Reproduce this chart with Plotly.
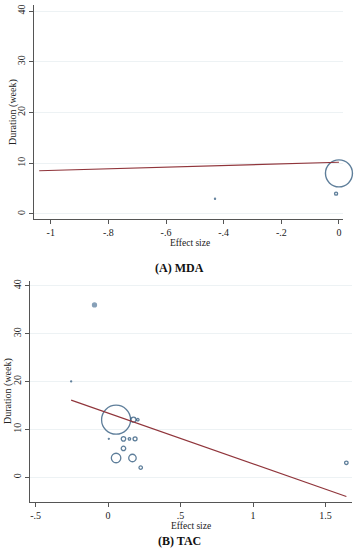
import plotly.graph_objects as go

# ---- Panel A: MDA ----
mda_effect = [0.0, -0.01, -0.43]
mda_duration = [8, 4, 3]
mda_weight = [729, 9, 1]          # relative study weights (area)
mda_fit_x = [-1.04, 0.0]
mda_fit_y = [8.5, 10.2]

# ---- Panel B: TAC ----
tac_effect = [-0.094, -0.255, 0.055, 0.175, 0.205, 0.005, 0.106, 0.147, 0.186, 0.106, 0.055, 0.168, 0.225, 1.644]
tac_duration = [36, 20, 12, 12, 12, 8, 8, 8, 8, 6, 4, 4, 2, 3]
tac_weight = [16, 1, 841, 25, 6, 1, 20, 6, 16, 20, 90, 56, 12, 12]
tac_fit_x = [-0.255, 1.644]
tac_fit_y = [16.1, -4.05]

a_xticks = [-1, -0.8, -0.6, -0.4, -0.2, 0]
a_xtext = ["-1", "-.8", "-.6", "-.4", "-.2", "0"]
b_xticks = [-0.5, 0, 0.5, 1, 1.5]
b_xtext = ["-.5", "0", ".5", "1", "1.5"]
yticks = [0, 10, 20, 30, 40]

NAVY = "#1a476f"
STEEL = "#55799b"
MAROON = "#90353b"
FONT = "Liberation Serif"

def sizes(w):
    return [max(v, 1) ** 0.5 for v in w]

tac_symbols = ["circle"] + ["circle-open"] * (len(tac_effect) - 1)
tac_colors = [STEEL] + [NAVY] * (len(tac_effect) - 1)

fig = go.Figure()
fig.add_trace(go.Scatter(x=mda_effect, y=mda_duration, mode="markers", cliponaxis=False,
                         marker=dict(symbol="circle-open", size=sizes(mda_weight), color=NAVY,
                                     line=dict(width=1.4, color=NAVY)),
                         xaxis="x", yaxis="y", showlegend=False, hoverinfo="skip"))
fig.add_trace(go.Scatter(x=mda_fit_x, y=mda_fit_y, mode="lines",
                         line=dict(color=MAROON, width=1.1),
                         xaxis="x", yaxis="y", showlegend=False, hoverinfo="skip"))
fig.add_trace(go.Scatter(x=tac_effect, y=tac_duration, mode="markers", cliponaxis=False,
                         marker=dict(symbol=tac_symbols, size=sizes(tac_weight), color=tac_colors,
                                     line=dict(width=1.3, color=tac_colors)),
                         xaxis="x2", yaxis="y2", showlegend=False, hoverinfo="skip"))
fig.add_trace(go.Scatter(x=tac_fit_x, y=tac_fit_y, mode="lines",
                         line=dict(color=MAROON, width=1.1),
                         xaxis="x2", yaxis="y2", showlegend=False, hoverinfo="skip"))

W, H = 358, 550
def xd(a, b):
    return [a / W, b / W]
def yd(top, bottom):
    return [1 - bottom / H, 1 - top / H]
def px(x):
    return x / W
def py(y):
    return 1 - y / H

axis_common = dict(showline=True, linecolor="#555555", linewidth=1.2, ticks="outside",
                   ticklen=4, tickcolor="#555555", zeroline=False, automargin=False,
                   tickfont=dict(family=FONT, size=10, color="#222"))

def label(text, x, y, angle=0, size=10, bold=False):
    return dict(text=f"<b>{text}</b>" if bold else text, x=px(x), y=py(y), xref="paper", yref="paper",
                xanchor="center", yanchor="middle", textangle=angle, showarrow=False,
                font=dict(family=FONT, size=size, color="#111" if bold else "#222"))

fig.update_layout(
    width=W, height=H, margin=dict(l=0, r=0, t=0, b=0),
    paper_bgcolor="white", plot_bgcolor="white",
    font=dict(family=FONT, color="#222"),
    xaxis=dict(domain=xd(34, 343), range=[-1.058, 0.014], tickvals=a_xticks, ticktext=a_xtext,
               showgrid=False, anchor="y", **axis_common),
    yaxis=dict(domain=yd(5, 219), range=[-1, 41.2], tickvals=yticks, tickangle=-90,
               showgrid=True, gridcolor="#edf2f4", gridwidth=1, anchor="x", **axis_common),
    xaxis2=dict(domain=xd(30, 352), range=[-0.539, 1.683], tickvals=b_xticks, ticktext=b_xtext,
                showgrid=False, anchor="y2", **axis_common),
    yaxis2=dict(domain=yd(281, 502), range=[-5.2, 41.0], tickvals=yticks, tickangle=-90,
                showgrid=True, gridcolor="#edf2f4", gridwidth=1, anchor="x2", **axis_common),
    annotations=[
        label("Effect size", 190, 243, size=9.5),
        label("Duration (week)", 13, 112, angle=-90),
        label("(A) MDA", 179, 268, size=12, bold=True),
        label("Effect size", 191, 526, size=9.5),
        label("Duration (week)", 8, 391, angle=-90),
        label("(B) TAC", 179, 541, size=12, bold=True),
    ],
)

# remove the page's default 8px body margin so the figure fills the window exactly
fig.write_html("out.html", config={"displayModeBar": False},
               post_script="document.body.style.margin='0px';")
